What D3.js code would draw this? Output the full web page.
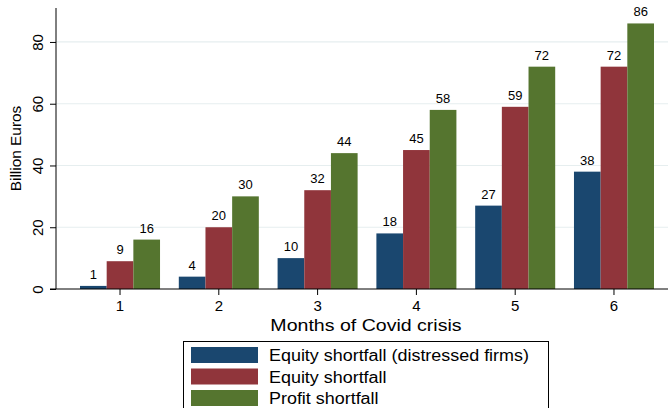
<!DOCTYPE html>
<html lang="en">
<head>
<meta charset="UTF-8" />
<title>Shortfall by month</title>
<script src="https://cdn.jsdelivr.net/npm/d3@7"></script>
<style>
    body { margin: 0; padding: 0; background: #fff; }
    text { font-family: "Liberation Sans", Arial, sans-serif; fill: #000; }
</style>
</head>
<body>
<svg width="668" height="408"></svg>
<script>
var months = ['1', '2', '3', '4', '5', '6'];
var seriesNames = ['Equity shortfall (distressed firms)', 'Equity shortfall', 'Profit shortfall'];
var distressed = [1, 4, 10, 18, 27, 38];
var equity = [9, 20, 32, 45, 59, 72];
var profit = [16, 30, 44, 58, 72, 86];
var yTicks = [0, 20, 40, 60, 80];
var colors = ['#1a476f', '#90353b', '#55752f'];

var series = [distressed, equity, profit];

var svg = d3.select('svg');
var plotLeft = 56, plotBottom = 289, plotTop = 8;

// the original's font is a bit wider than Liberation Sans
function widen(sel, k) {
    sel.each(function () {
        var w = this.getComputedTextLength();
        d3.select(this).attr('textLength', w * k).attr('lengthAdjust', 'spacingAndGlyphs');
    });
}

var y = d3.scaleLinear().domain([0, 91]).range([plotBottom, plotTop]);
var x = d3.scaleBand().domain(months).range([56, 678]).paddingInner(0.19).paddingOuter(0.243);
var xs = d3.scaleBand().domain(d3.range(series.length)).range([0, x.bandwidth()]);

// grid
svg.append('g')
    .selectAll('line')
    .data(yTicks.slice(1))
    .join('line')
    .attr('x1', plotLeft).attr('x2', 668)
    .attr('y1', d => y(d)).attr('y2', d => y(d))
    .attr('stroke', '#e6eeef').attr('stroke-width', 1.2);

// bars
var groups = svg.append('g')
    .selectAll('g')
    .data(months)
    .join('g')
    .attr('transform', d => 'translate(' + x(d) + ',0)');

groups.selectAll('rect')
    .data((m, i) => series.map((s, k) => ({ k: k, v: s[i] })))
    .join('rect')
    .attr('x', d => xs(d.k))
    .attr('width', xs.bandwidth())
    .attr('y', d => y(d.v))
    .attr('height', d => plotBottom - y(d.v))
    .attr('fill', d => colors[d.k]);

groups.selectAll('text')
    .data((m, i) => series.map((s, k) => ({ k: k, v: s[i] })))
    .join('text')
    .attr('x', d => xs(d.k) + xs.bandwidth() / 2)
    .attr('y', d => y(d.v) - 7)
    .attr('text-anchor', 'middle')
    .style('font-size', '13px')
    .text(d => d.v);

// y axis
var yAxis = svg.append('g')
    .attr('transform', 'translate(' + plotLeft + ',0)')
    .call(d3.axisLeft(y).tickValues(yTicks).tickSize(6).tickPadding(12));
yAxis.select('.domain').attr('d', 'M0,' + plotTop + 'V' + plotBottom).attr('stroke', '#000');
yAxis.selectAll('.tick line').attr('stroke', '#000');
yAxis.selectAll('.tick text')
    .attr('transform', 'rotate(-90)')
    .attr('x', 0)
    .attr('dy', 0)
    .attr('y', -13)
    .attr('text-anchor', 'middle')
    .style('font-size', '15px')
    .style('font-family', '"Liberation Sans", Arial, sans-serif');

// x axis
var xAxis = svg.append('g')
    .attr('transform', 'translate(0,' + plotBottom + ')')
    .call(d3.axisBottom(x).tickSize(6).tickPadding(5));
xAxis.select('.domain').attr('d', 'M' + (plotLeft - 6) + ',0H668').attr('stroke', '#000');
xAxis.selectAll('.tick line').attr('stroke', '#000');
xAxis.selectAll('.tick text')
    .style('font-size', '15px')
    .style('font-family', '"Liberation Sans", Arial, sans-serif');

svg.append('text')
    .attr('transform', 'translate(21,' + ((plotTop + plotBottom) / 2) + ') rotate(-90)')
    .attr('text-anchor', 'middle')
    .style('font-size', '14px')
    .text('Billion Euros')
    .call(widen, 1.1);

svg.append('text')
    .attr('x', 366)
    .attr('y', 331)
    .attr('text-anchor', 'middle')
    .style('font-size', '17px')
    .text('Months of Covid crisis')
    .call(widen, 1.15);

// legend
var legend = svg.append('g');
legend.append('rect')
    .attr('x', 183.5).attr('y', 341.5)
    .attr('width', 365).attr('height', 80)
    .attr('fill', '#fff').attr('stroke', '#000');

var rows = legend.selectAll('g.row')
    .data(seriesNames)
    .join('g')
    .attr('class', 'row')
    .attr('transform', (d, i) => 'translate(0,' + (347 + i * 21.5) + ')');
rows.append('rect')
    .attr('x', 191).attr('width', 67).attr('height', 16)
    .attr('fill', (d, i) => colors[i]);
rows.append('text')
    .attr('x', 269).attr('y', 14)
    .style('font-size', '16px')
    .text(d => d)
    .call(widen, 1.12);
</script>
</body>
</html>
